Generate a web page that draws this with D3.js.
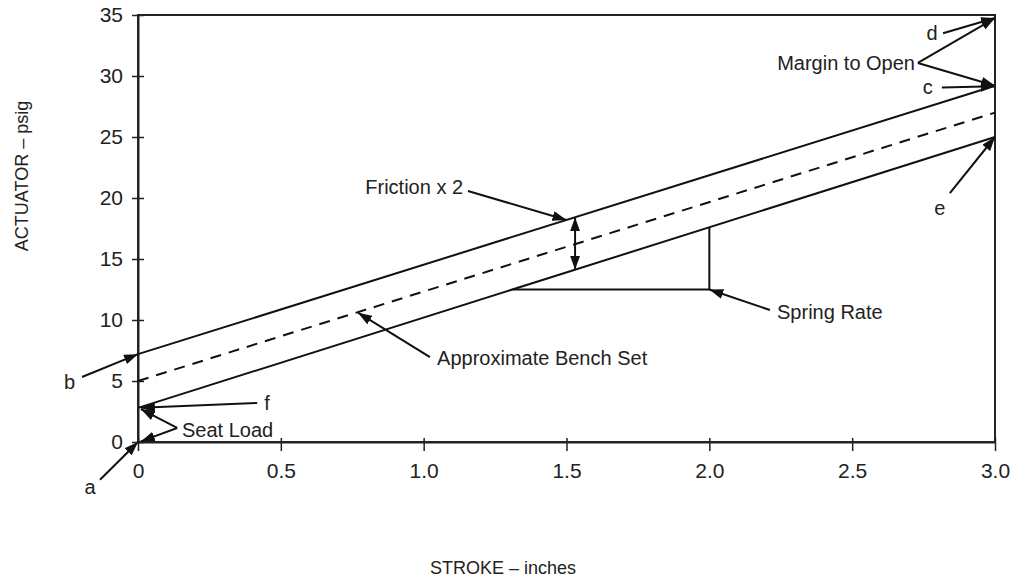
<!DOCTYPE html>
<html>
<head>
<meta charset="utf-8">
<script src="https://cdn.jsdelivr.net/npm/d3@7"></script>
<style>
  body { margin: 0; background: #fff; }
  svg text { font-family: "Liberation Sans", Arial, sans-serif; fill: #222; }
</style>
</head>
<body>
<svg id="chart"></svg>
<script>
// stroke (inches) at the two ends of each line
const stroke = [0, 3.0];
const upperLine = [7.2, 29.2];   // friction band, opening side
const benchSet = [5.0, 27.0];    // approximate bench set (dashed)
const lowerLine = [2.8, 25.0];   // friction band, closing side

const xTicks = [0, 0.5, 1.0, 1.5, 2.0, 2.5, 3.0];
const xTickLabels = ['0', '0.5', '1.0', '1.5', '2.0', '2.5', '3.0'];
const yTicks = [0, 5, 10, 15, 20, 25, 30, 35];

// callouts: label position, arrow start and arrow tip(s) in data units
const callouts = [
    { text: 'a', at: [-0.168, -3.7], from: [-0.133, -3.1], to: [[0, 0]] },
    { text: 'b', at: [-0.24, 4.9], from: [-0.196, 5.33], to: [[0, 7.2]] },
    { text: 'f', at: [0.452, 3.2], from: [0.417, 3.2], to: [[0.01, 2.8]] },
    { text: 'Seat Load', at: [0.154, 0.98], from: [0.137, 1.15], to: [[0.01, 2.7], [0.01, 0.05]] },
    { text: 'Margin to Open', at: [2.72, 31.07], from: [2.73, 31.07], to: [[3.0, 34.75], [3.0, 29.2]], anchor: 'end' },
    { text: 'd', at: [2.78, 33.5], from: [2.818, 33.5], to: [[3.0, 34.75]] },
    { text: 'c', at: [2.765, 29.1], from: [2.814, 29.05], to: [[3.0, 29.15]] },
    { text: 'e', at: [2.807, 19.2], from: [2.842, 20.4], to: [[3.0, 25.0]] },
    { text: 'Friction x 2', at: [1.138, 20.9], from: [1.155, 20.57], to: [[1.5, 18.2]], anchor: 'end' },
    { text: 'Approximate Bench Set', at: [1.047, 6.89], from: [1.022, 6.95], to: [[0.77, 10.6]] },
    { text: 'Spring Rate', at: [2.237, 10.66], from: [2.212, 10.82], to: [[2.0, 12.5]] }
];

const frictionAt = 1.53;           // double arrow across the band
const springRate = { y: 12.5, x2: 2.0 };

const W = 1012, H = 577;
const margin = { top: 15, right: 17, bottom: 135, left: 138 };
const width = W - margin.left - margin.right;
const height = H - margin.top - margin.bottom;

const svg = d3.select('#chart').attr('width', W).attr('height', H);

const defs = svg.append('defs');
const addMarker = (id, orient) => {
    defs.append('marker')
        .attr('id', id)
        .attr('viewBox', '0 0 14 10')
        .attr('refX', 14).attr('refY', 5)
        .attr('markerWidth', 14).attr('markerHeight', 10)
        .attr('markerUnits', 'userSpaceOnUse')
        .attr('orient', orient)
        .append('path')
        .attr('d', 'M0,0 L14,5 L0,10 Z')
        .attr('fill', '#111');
};
addMarker('arrow', 'auto');
addMarker('arrowStart', 'auto-start-reverse');

const g = svg.append('g').attr('transform', `translate(${margin.left},${margin.top})`);

const x = d3.scaleLinear().domain([0, 3.0]).range([0, width]);
const y = d3.scaleLinear().domain([0, 35]).range([height, 0]);

// frame
g.append('rect')
    .attr('x', 0).attr('y', 0)
    .attr('width', width).attr('height', height)
    .attr('fill', 'none').attr('stroke', '#222').attr('stroke-width', 2);

// axes
const xAxis = g.append('g')
    .attr('transform', `translate(0,${height})`)
    .call(d3.axisBottom(x).tickValues(xTicks).tickFormat((d, i) => xTickLabels[i])
        .tickSizeInner(9).tickSizeOuter(0).tickPadding(12));
xAxis.select('.domain').attr('stroke', '#222').attr('stroke-width', 2);
xAxis.selectAll('.tick line').attr('y1', -4).attr('stroke', '#222').attr('stroke-width', 1.5);
xAxis.selectAll('.tick text').style('font-size', '21px').attr('fill', '#222');

const yAxis = g.append('g')
    .call(d3.axisLeft(y).tickValues(yTicks).tickSizeInner(6).tickSizeOuter(0).tickPadding(9));
yAxis.select('.domain').attr('stroke', '#222').attr('stroke-width', 2);
yAxis.selectAll('.tick line').attr('x1', 6).attr('stroke', '#222').attr('stroke-width', 1.5);
yAxis.selectAll('.tick text').style('font-size', '21px').attr('fill', '#222');

// axis titles
svg.append('text')
    .attr('x', 503).attr('y', 574)
    .attr('text-anchor', 'middle')
    .style('font-size', '18px')
    .text('STROKE – inches');

svg.append('text')
    .attr('transform', 'translate(28,176) rotate(-90)')
    .attr('text-anchor', 'middle')
    .style('font-size', '18px')
    .text('ACTUATOR – psig');

// lines
const line = d3.line().x(d => x(d[0])).y(d => y(d[1]));
const pairs = vals => stroke.map((s, i) => [s, vals[i]]);

g.append('path').datum(pairs(upperLine))
    .attr('d', line).attr('fill', 'none').attr('stroke', '#111').attr('stroke-width', 2);
g.append('path').datum(pairs(lowerLine))
    .attr('d', line).attr('fill', 'none').attr('stroke', '#111').attr('stroke-width', 2);
g.append('path').datum(pairs(benchSet))
    .attr('d', line).attr('fill', 'none').attr('stroke', '#111').attr('stroke-width', 2)
    .attr('stroke-dasharray', '11,8');

const interp = (vals, s) => vals[0] + (vals[1] - vals[0]) * (s - stroke[0]) / (stroke[1] - stroke[0]);
const invert = (vals, v) => stroke[0] + (v - vals[0]) * (stroke[1] - stroke[0]) / (vals[1] - vals[0]);

// spring rate triangle
const sx1 = invert(lowerLine, springRate.y);
g.append('path')
    .datum([[sx1, springRate.y], [springRate.x2, springRate.y], [springRate.x2, interp(lowerLine, springRate.x2)]])
    .attr('d', line).attr('fill', 'none').attr('stroke', '#111').attr('stroke-width', 2);

// friction double arrow
g.append('line')
    .attr('x1', x(frictionAt)).attr('x2', x(frictionAt))
    .attr('y1', y(interp(upperLine, frictionAt))).attr('y2', y(interp(lowerLine, frictionAt)))
    .attr('stroke', '#111').attr('stroke-width', 2)
    .attr('marker-start', 'url(#arrowStart)').attr('marker-end', 'url(#arrow)');

// callouts
callouts.forEach(c => {
    c.to.forEach(t => {
        g.append('line')
            .attr('x1', x(c.from[0])).attr('y1', y(c.from[1]))
            .attr('x2', x(t[0])).attr('y2', y(t[1]))
            .attr('stroke', '#111').attr('stroke-width', 2)
            .attr('marker-end', 'url(#arrow)');
    });
    g.append('text')
        .attr('x', x(c.at[0])).attr('y', y(c.at[1]))
        .attr('dy', '0.35em')
        .attr('text-anchor', c.anchor || (c.text.length === 1 ? 'middle' : 'start'))
        .style('font-size', '20px')
        .text(c.text);
});
</script>
</body>
</html>
